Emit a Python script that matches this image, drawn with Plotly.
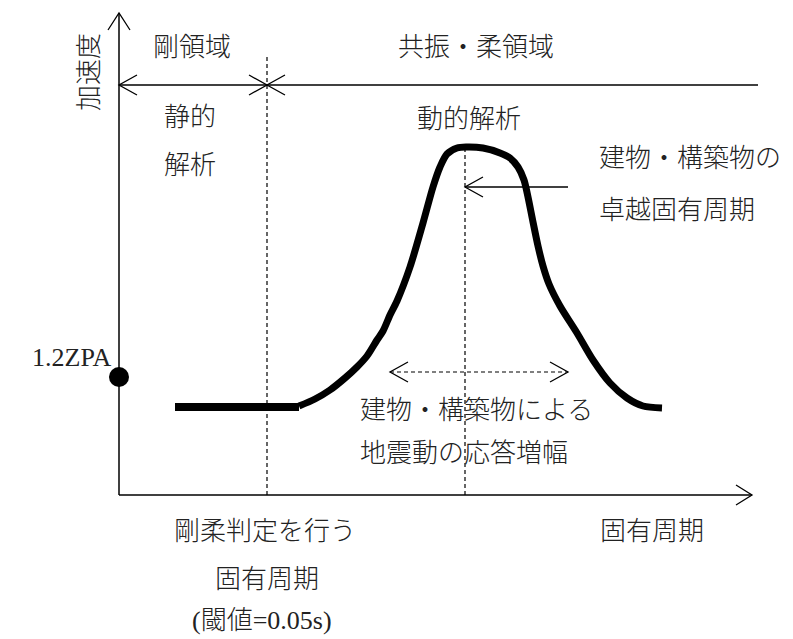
import plotly.graph_objects as go

# ---- data (schematic response spectrum, arbitrary units: x = period, y = acceleration)
flat_period = [56, 180]
flat_accel = [88, 88]
curve_period = [180, 196, 211, 226, 238, 248, 258, 264, 271, 278, 291, 304, 314, 321, 328, 338,
                347, 364, 381, 391, 399, 405, 409, 414, 419, 424, 430, 441, 458, 474, 491, 508, 524, 543]
curve_accel = [89, 96, 105, 117, 128, 139, 155, 164, 180, 194, 228, 272, 308, 328, 341, 347,
               348, 347, 342, 337, 328, 315, 298, 273, 249, 229, 211, 189, 162, 135, 112, 97, 89, 87]
zpa_period = [0]
zpa_accel = [118]
rigid_limit = 148          # rigid/flexible threshold period
dominant_period = 346      # dominant natural period
amp_range = [271, 449]     # amplification range

# ---- layout constants
PAGE_MARGIN = 8            # default body margin of the html page
W, H = 793 - PAGE_MARGIN, 639 - PAGE_MARGIN
X0, Y0 = 119 - PAGE_MARGIN, 495 - PAGE_MARGIN   # origin position inside the figure
x_end, y_end = 633, 482
top_y = 410
top_end = 639

FONT = "Liberation Serif, Noto Sans CJK JP"
TXT = "#222222"
LC = "black"

fig = go.Figure()
fig.add_trace(go.Scatter(x=flat_period, y=flat_accel, mode="lines",
                         line=dict(color="black", width=8), hoverinfo="skip"))
fig.add_trace(go.Scatter(x=curve_period, y=curve_accel, mode="lines",
                         line=dict(color="black", width=7, shape="spline", smoothing=0.8),
                         hoverinfo="skip"))
fig.add_trace(go.Scatter(x=zpa_period, y=zpa_accel, mode="markers",
                         marker=dict(color="black", size=20), hoverinfo="skip"))

shapes = []


def line(x0, y0, x1, y1, w=1.3, dash="solid"):
    shapes.append(dict(type="line", xref="x", yref="y", x0=x0, y0=y0, x1=x1, y1=y1,
                       line=dict(color=LC, width=w, dash=dash)))


def head(x, y, direction, L=18, hw=10, w=1.3):
    if direction == "left":
        p = f"M {x+L},{y+hw} L {x},{y} L {x+L},{y-hw}"
    elif direction == "right":
        p = f"M {x-L},{y+hw} L {x},{y} L {x-L},{y-hw}"
    else:  # up
        p = f"M {x-hw},{y-L} L {x},{y} L {x+hw},{y-L}"
    shapes.append(dict(type="path", xref="x", yref="y", path=p,
                       line=dict(color=LC, width=w)))


# axes
line(0, 0, 0, y_end, w=1.5)
head(0, y_end, "up", L=17, hw=11)
line(0, 0, x_end, 0, w=1.5)
head(x_end, 0, "right", L=16, hw=10)
# top region line
line(0, top_y, top_end, top_y, w=1.5)
head(0, top_y, "left")
head(rigid_limit, top_y, "right")
head(rigid_limit, top_y, "left")
# dashed verticals
line(rigid_limit, 0, rigid_limit, 438, w=1.2, dash="4px,3px")
line(dominant_period, 0, dominant_period, 348, w=1.2, dash="4px,3px")
# leader arrow to dominant period
line(dominant_period, 308, 449, 308)
head(dominant_period, 308, "left")
# amplification dashed double arrow
line(amp_range[0], 123, amp_range[1], 123, w=1.2, dash="4px,3px")
head(amp_range[0], 123, "left")
head(amp_range[1], 123, "right")

ann = []


def text(t, x, y, xa="center", angle=0, size=26):
    ann.append(dict(text=t, x=x, y=y, xref="x", yref="y", showarrow=False,
                    xanchor=xa, yanchor="middle", textangle=angle,
                    font=dict(family=FONT, size=size, color=TXT, weight=300)))


text("加速度", -30, 423, angle=-90)
text("剛領域", 73, 448)
text("共振・柔領域", 357, 448)
text("静的", 71, 378)
text("解析", 71, 330)
text("動的解析", 350, 376)
text("建物・構築物の", 478, 337, xa="left")
text("卓越固有周期", 478, 285, xa="left")
text("1.2ZPA", -6, 138, xa="right")
text("建物・構築物による", 239, 85, xa="left")
text("地震動の応答増幅", 239, 42, xa="left")
text("剛柔判定を行う", 146, -36)
text("固有周期", 148, -84)
text("(閾値=0.05s)", 143, -125)
text("固有周期", 533, -36)

fig.update_layout(
    width=W, height=H, margin=dict(l=0, r=0, t=0, b=0),
    paper_bgcolor="white", plot_bgcolor="white", showlegend=False,
    xaxis=dict(range=[-X0, W - X0], visible=False, fixedrange=True),
    yaxis=dict(range=[Y0 - H, Y0], visible=False, fixedrange=True),
    shapes=shapes, annotations=ann,
)
fig.write_html("out.html")
